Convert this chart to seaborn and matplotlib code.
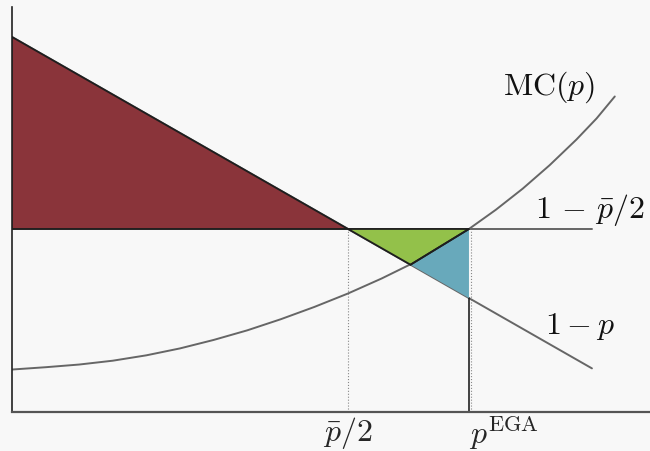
import matplotlib
matplotlib.use("Agg")
import matplotlib.pyplot as plt
import seaborn as sns
import pandas as pd

# Model quantities (price p on the x axis, with p_bar normalised to 1)
p_bar = 1.0
level = 0.5            # 1 - p_bar/2
p_half = 0.5           # p_bar/2
p_ega = 0.68
p_cross = 0.593        # demand meets marginal cost
v_cross = 0.407

# Demand 1 - p
p_demand = [0.0, 0.863]
demand = [1.0, 0.137]

# Marginal cost curve MC(p)
p_mc = [0.0, 0.05, 0.10, 0.15, 0.20, 0.25, 0.30, 0.35, 0.40, 0.45, 0.50,
        0.55, 0.60, 0.65, 0.68, 0.72, 0.76, 0.80, 0.84, 0.87, 0.897]
mc = [0.134, 0.140, 0.147, 0.157, 0.171, 0.189, 0.211, 0.236, 0.265, 0.297,
      0.332, 0.371, 0.414, 0.464, 0.500, 0.550, 0.605, 0.666, 0.733, 0.788,
      0.845]

# Horizontal line 1 - p_bar/2
p_flat = [0.0, 0.863]
flat = [level, level]

tick_pos = [p_half, p_ega]
tick_labels = [r"$\bar{p}/2$", r"$p^{\mathrm{EGA}}$"]

sns.set_theme(style="white")
plt.rcParams["mathtext.fontset"] = "cm"
plt.rcParams["font.family"] = ["DejaVu Serif"]

bg = "#f8f8f8"
fig = plt.figure(figsize=(6.5, 4.51), dpi=100, facecolor=bg)
ax = fig.add_axes([12 / 650, 39 / 451, 638 / 650, 405 / 451])
ax.set_facecolor(bg)

y_lo, y_hi = 0.0234, 1.078
ax.set_xlim(0, 0.9494)
ax.set_ylim(y_lo, y_hi)

line_col = "#666666"
edge_col = "#1e1e1e"

df_d = pd.DataFrame({"p": p_demand, "v": demand})
df_mc = pd.DataFrame({"p": p_mc, "v": mc})
df_f = pd.DataFrame({"p": p_flat, "v": flat})
for df in (df_d, df_mc, df_f):
    sns.lineplot(data=df, x="p", y="v", ax=ax, color=line_col, lw=1.4,
                 sort=False, estimator=None, zorder=2)

# Shaded regions
ax.fill([0.0, p_half, 0.0], [demand[0], level, level],
        facecolor="#8a343a", edgecolor=edge_col, lw=1.3, zorder=3)
ax.fill([p_half, p_ega, p_cross], [level, level, v_cross],
        facecolor="#93c14a", edgecolor=edge_col, lw=1.3, zorder=3)
ax.fill([p_cross, p_ega, p_ega], [v_cross, level, 1 - p_ega],
        facecolor="#68a9bb", edgecolor="none", zorder=2.5)
ax.plot([p_cross, p_ega], [v_cross, level], color=edge_col, lw=1.3, zorder=4)

# Guide lines down to the axis
ax.plot([p_half, p_half], [y_lo, level], color="#888888", lw=0.8, ls=":", zorder=1)
ax.plot([p_ega + 0.003, p_ega + 0.003], [y_lo, level], color="#888888", lw=0.8,
        ls=":", zorder=1)
ax.plot([p_ega, p_ega], [y_lo, 1 - p_ega], color="#111111", lw=1.1, zorder=2)

# Curve labels
ax.text(0.731, 0.850, r"$\mathrm{MC}(p)$", fontsize=23, color="#111111",
        va="baseline", ha="left")
ax.text(0.779, 0.528, r"$1\,-\,\bar{p}/2$", fontsize=23, color="#111111",
        va="baseline", ha="left")
ax.text(0.793, 0.226, r"$1-p$", fontsize=23, color="#111111",
        va="baseline", ha="left")

ax.set_xticks(tick_pos)
ax.set_xticklabels(tick_labels, fontsize=23)
ax.tick_params(axis="x", length=0, pad=2)
ax.get_xticklabels()[1].set_horizontalalignment("left")
ax.set_yticks([])
ax.set_xlabel("")
ax.set_ylabel("")

for side in ("top", "right"):
    ax.spines[side].set_visible(False)
ax.spines["left"].set_color("#222222")
ax.spines["left"].set_linewidth(1.2)
ax.spines["bottom"].set_color("#555555")
ax.spines["bottom"].set_linewidth(1.6)

fig.savefig("out.png", dpi=100, facecolor=bg)
